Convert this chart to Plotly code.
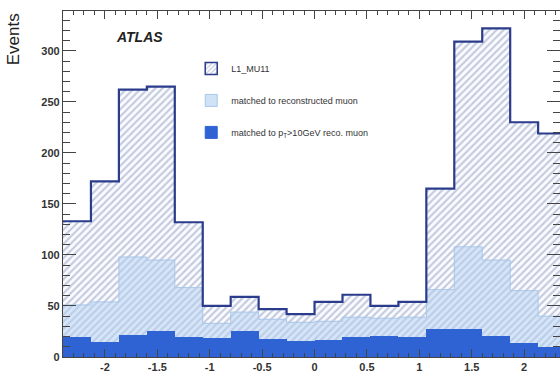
import numpy as np
import plotly.graph_objects as go

# 18 eta bins from -2.4 to 2.4
bin_edges = list(np.linspace(-2.4, 2.4, 19))
l1_mu11 = [133, 172, 262, 265, 132, 50, 59, 47, 42, 54, 61, 50, 54, 165, 309, 322, 230, 219]
matched_reco = [51, 54, 98, 95, 68, 33, 44, 37, 34, 35, 39, 38, 39, 66, 108, 95, 65, 40]
matched_pt10 = [20, 15, 22, 25, 20, 19, 25, 18, 16, 17, 20, 21, 20, 27, 27, 21, 14, 10]

names = ["L1_MU11", "matched to reconstructed muon", "matched to p<sub>T</sub>>10GeV reco. muon"]

centers = [(a + b) / 2 for a, b in zip(bin_edges[:-1], bin_edges[1:])]
widths = [b - a for a, b in zip(bin_edges[:-1], bin_edges[1:])]

NAVY = "#2b3c8c"
HATCH = "#8e9abd"
LIGHT = "rgba(178,208,242,0.5)"
LIGHT_LEG = "#cfe2f6"
DARK = "#2f63d4"

fig = go.Figure()

# hatched L1 histogram
fig.add_trace(go.Bar(
    x=centers, y=l1_mu11, width=widths, showlegend=False,
    marker=dict(color="white", line=dict(width=0),
                pattern=dict(shape="/", fgcolor=HATCH, bgcolor="#fbfcff", size=5, solidity=0.42)),
))
# light matched histogram
fig.add_trace(go.Bar(
    x=centers, y=matched_reco, width=widths, showlegend=False,
    marker=dict(color=LIGHT, line=dict(width=0)),
))
# dark pT>10 histogram
fig.add_trace(go.Bar(
    x=centers, y=matched_pt10, width=widths, showlegend=False,
    marker=dict(color=DARK, line=dict(width=0)),
))
# outlines
fig.add_trace(go.Scatter(
    x=bin_edges, y=matched_reco + [matched_reco[-1]], mode="lines", line_shape="hv",
    line=dict(color="#a8c6e8", width=1), showlegend=False, hoverinfo="skip",
))
fig.add_trace(go.Scatter(
    x=bin_edges, y=l1_mu11 + [l1_mu11[-1]], mode="lines", line_shape="hv",
    line=dict(color=NAVY, width=2.2), showlegend=False, hoverinfo="skip",
))

# legend entries
fig.add_trace(go.Bar(
    x=[None], y=[None], name=names[0], legendgroup="a",
    marker=dict(color="white", line=dict(color=NAVY, width=1.5),
                pattern=dict(shape="/", fgcolor="#7f8db5", bgcolor="white", size=4, solidity=0.35)),
))
fig.add_trace(go.Bar(
    x=[None], y=[None], name=names[1], legendgroup="b",
    marker=dict(color=LIGHT_LEG, line=dict(color="#a8c6e8", width=1)),
))
fig.add_trace(go.Bar(
    x=[None], y=[None], name=names[2], legendgroup="c",
    marker=dict(color=DARK, line=dict(color=DARK, width=1)),
))

tickfont = dict(family="Liberation Sans, Arial, sans-serif", size=11, color="#333333", weight="bold")

fig.update_layout(
    width=560, height=392,
    margin=dict(l=63, r=0, t=11, b=35),
    paper_bgcolor="white", plot_bgcolor="white",
    barmode="overlay", bargap=0,
    showlegend=True,
    legend=dict(x=0.258, y=0.876, xanchor="left", yanchor="top",
                bgcolor="rgba(0,0,0,0)", tracegroupgap=13, traceorder="grouped",
                font=dict(family="Liberation Sans, Arial, sans-serif", size=9, color="#333333")),
    xaxis=dict(range=[-2.4, 2.342], showgrid=False, zeroline=False,
               showline=True, linecolor="#444444", linewidth=1.2, mirror="ticks",
               ticks="inside", ticklen=8, tickcolor="#444444",
               tickvals=[-2, -1.5, -1, -0.5, 0, 0.5, 1, 1.5, 2],
               ticktext=["-2", "-1.5", "-1", "-0.5", "0", "0.5", "1", "1.5", "2"],
               minor=dict(dtick=0.1, tick0=0, ticks="inside", ticklen=4, tickcolor="#444444", showgrid=False),
               tickfont=tickfont),
    yaxis=dict(range=[0, 339], showgrid=False, zeroline=False,
               showline=True, linecolor="#444444", linewidth=1.2, mirror="ticks",
               ticks="inside", ticklen=13, tickcolor="#444444", dtick=50, tick0=0,
               minor=dict(dtick=10, tick0=0, ticks="inside", ticklen=7, tickcolor="#444444", showgrid=False),
               tickfont=tickfont),
    annotations=[
        dict(text="Events", x=-0.10, xref="paper", y=1.0, yref="paper",
             xanchor="center", yanchor="top", textangle=-90, showarrow=False,
             font=dict(family="Liberation Sans, Arial, sans-serif", size=17, color="#222222")),
        dict(text="<b><i>ATLAS</i></b>", x=0.153, xref="paper", y=0.925, yref="paper",
             xanchor="center", yanchor="middle", showarrow=False,
             font=dict(family="Liberation Sans, Arial, sans-serif", size=14, color="#222222")),
    ],
)

fig.write_html("out.html")
